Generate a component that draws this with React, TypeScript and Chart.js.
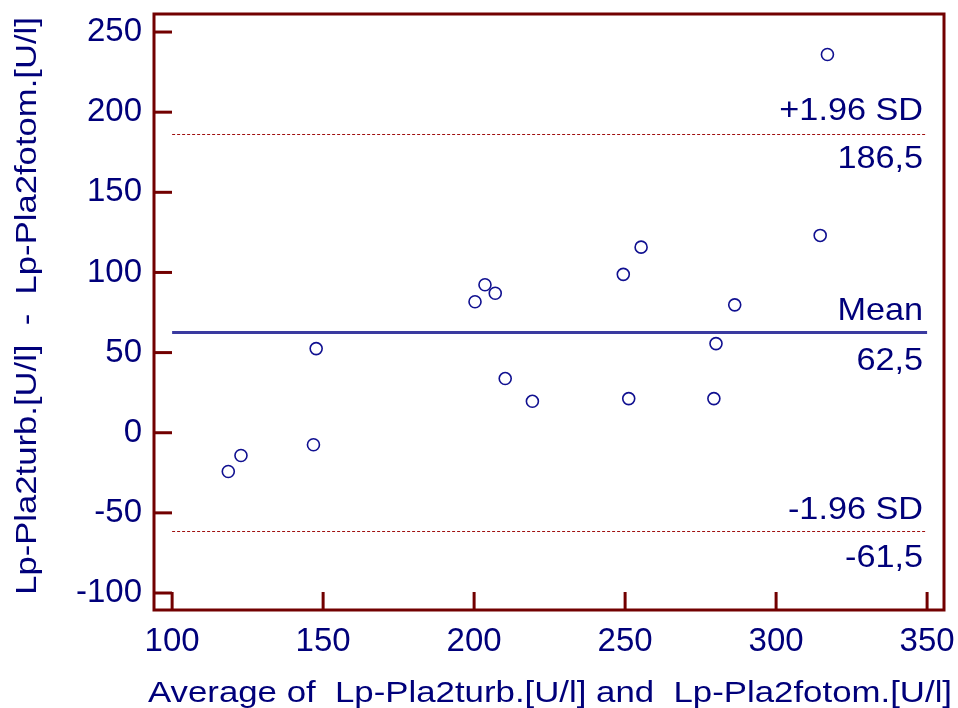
import React, { useEffect, useRef } from "react";
import { Chart, registerables } from "chart.js";

Chart.register(...registerables);

const avgValues = [118.6, 122.8, 146.8, 147.7, 200.3, 203.6, 207.0, 210.3, 219.3, 249.4, 255.3, 251.2, 279.4, 280.1, 286.3, 314.6, 317.0];
const diffValues = [-24.2, -14.2, -7.5, 52.5, 81.7, 92.3, 87.0, 33.8, 19.6, 98.8, 115.8, 21.3, 21.3, 55.6, 79.8, 123.1, 236.0];
const xTicks = [100, 150, 200, 250, 300, 350];
const yTicks = [-100, -50, 0, 50, 100, 150, 200, 250];
const meanValue = 62.5;
const upperLimit = 186.5;
const lowerLimit = -61.5;
const lineStart = 100;
const lineEnd = 350;
const xTitle = "Average of  Lp-Pla2turb.[U/l] and  Lp-Pla2fotom.[U/l]";
const yTitle = "Lp-Pla2turb.[U/l]  -  Lp-Pla2fotom.[U/l]";
const upperLabel = "+1.96 SD";
const upperValueLabel = "186,5";
const meanLabel = "Mean";
const meanValueLabel = "62,5";
const lowerLabel = "-1.96 SD";
const lowerValueLabel = "-61,5";

const FONT = "'Liberation Sans', Arial, sans-serif";
const NAVY = "#00007a";
const AXIS = "#720000";

function stretchText(ctx: CanvasRenderingContext2D, text: string, x: number, y: number, align: CanvasTextAlign, sx: number, size: number) {
  ctx.save();
  ctx.translate(x, y);
  ctx.scale(sx, 1);
  ctx.font = `${size}px ${FONT}`;
  ctx.textAlign = align;
  ctx.textBaseline = "alphabetic";
  ctx.fillStyle = NAVY;
  ctx.fillText(text, 0, 0);
  ctx.restore();
}

const overlay = {
  id: "blandAltman",
  beforeDatasetsDraw(chart: any) {
    const ctx = chart.ctx as CanvasRenderingContext2D;
    const xs = chart.scales.x;
    const ys = chart.scales.y;
    const x0 = xs.getPixelForValue(lineStart);
    const x1 = xs.getPixelForValue(lineEnd);
    ctx.save();
    ctx.strokeStyle = "#a01010";
    ctx.lineWidth = 1;
    ctx.setLineDash([3, 2]);
    for (const v of [upperLimit, lowerLimit]) {
      const y = Math.round(ys.getPixelForValue(v)) + 0.5;
      ctx.beginPath();
      ctx.moveTo(x0, y);
      ctx.lineTo(x1, y);
      ctx.stroke();
    }
    ctx.setLineDash([]);
    ctx.strokeStyle = "#3a3aa0";
    ctx.lineWidth = 3;
    const ym = ys.getPixelForValue(meanValue);
    ctx.beginPath();
    ctx.moveTo(x0, ym);
    ctx.lineTo(x1, ym);
    ctx.stroke();
    ctx.restore();

    const rx = x1 - 4;
    const sx = 1.07;
    const yu = ys.getPixelForValue(upperLimit);
    const yl = ys.getPixelForValue(lowerLimit);
    stretchText(ctx, upperLabel, rx, yu - 14, "right", sx, 32);
    stretchText(ctx, upperValueLabel, rx, yu + 34, "right", sx, 32);
    stretchText(ctx, meanLabel, rx, ym - 13, "right", sx, 32);
    stretchText(ctx, meanValueLabel, rx, ym + 37, "right", sx, 32);
    stretchText(ctx, lowerLabel, rx, yl - 12, "right", sx, 32);
    stretchText(ctx, lowerValueLabel, rx, yl + 36, "right", sx, 32);
  },
  afterDraw(chart: any) {
    const ctx = chart.ctx as CanvasRenderingContext2D;
    const a = chart.chartArea;
    const xs = chart.scales.x;
    const ys = chart.scales.y;
    ctx.save();
    ctx.strokeStyle = AXIS;
    ctx.lineWidth = 3;
    ctx.lineCap = "butt";
    ctx.strokeRect(a.left, a.top, a.right - a.left, a.bottom - a.top);
    const tl = 18;
    for (const v of yTicks) {
      const y = ys.getPixelForValue(v);
      ctx.beginPath();
      ctx.moveTo(a.left, y);
      ctx.lineTo(a.left + tl, y);
      ctx.stroke();
    }
    for (const v of xTicks) {
      const x = xs.getPixelForValue(v);
      ctx.beginPath();
      ctx.moveTo(x, a.bottom);
      ctx.lineTo(x, a.bottom - tl);
      ctx.stroke();
    }
    ctx.restore();

    stretchText(ctx, xTitle, 550, 702, "center", 1.16, 30);
    ctx.save();
    ctx.translate(36, 306);
    ctx.rotate(-Math.PI / 2);
    ctx.scale(1.155, 1);
    ctx.font = `30px ${FONT}`;
    ctx.textAlign = "center";
    ctx.textBaseline = "alphabetic";
    ctx.fillStyle = NAVY;
    ctx.fillText(yTitle, 0, 0);
    ctx.restore();
  },
};

export default function App() {
  const ref = useRef<HTMLCanvasElement | null>(null);
  useEffect(() => {
    if (!ref.current) return;
    const points = avgValues.map((x, i) => ({ x, y: diffValues[i] }));
    const chart = new Chart(ref.current, {
      type: "scatter",
      data: {
        datasets: [
          {
            data: points,
            pointRadius: 6,
            pointHoverRadius: 6,
            pointBorderWidth: 1.6,
            pointBorderColor: "#101090",
            pointBackgroundColor: "rgba(255,255,255,0)",
            showLine: false,
          },
        ],
      },
      options: {
        animation: false,
        responsive: false,
        maintainAspectRatio: false,
        layout: { padding: { left: 0, top: 14, right: 14, bottom: 0 } },
        plugins: { legend: { display: false }, tooltip: { enabled: false } },
        scales: {
          x: {
            type: "linear",
            min: 94,
            max: 355.6,
            grid: { display: false, drawTicks: false },
            border: { display: false },
            afterBuildTicks: (s: any) => {
              s.ticks = xTicks.map((v) => ({ value: v }));
            },
            afterFit: (s: any) => {
              s.height = 98;
              s.paddingLeft = 0;
              s.paddingRight = 0;
            },
            ticks: {
              color: NAVY,
              font: { family: FONT, size: 33 },
              padding: 12,
              maxRotation: 0,
              autoSkip: false,
              callback: (v: any) => String(v),
            },
          },
          y: {
            type: "linear",
            min: -110.6,
            max: 261.25,
            grid: { display: false, drawTicks: false },
            border: { display: false },
            afterBuildTicks: (s: any) => {
              s.ticks = yTicks.map((v) => ({ value: v }));
            },
            afterFit: (s: any) => {
              s.width = 154;
              s.paddingTop = 0;
              s.paddingBottom = 0;
            },
            ticks: {
              color: NAVY,
              font: { family: FONT, size: 33 },
              padding: 12,
              autoSkip: false,
              callback: (v: any) => String(v),
            },
          },
        },
      },
      plugins: [overlay],
    });
    return () => chart.destroy();
  }, []);
  return (
    <div style={{ position: "absolute", left: 0, top: 0, width: 958, height: 708, background: "#fff" }}>
      <canvas ref={ref} width={958} height={708} style={{ display: "block" }} />
    </div>
  );
}
